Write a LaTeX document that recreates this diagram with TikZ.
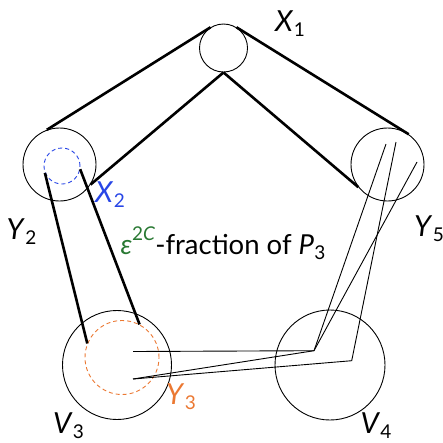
\documentclass[tikz,border=0pt]{standalone}
\usepackage{fontspec}
\setmainfont{Lato}
\definecolor{xblue}{RGB}{40,70,230}
\definecolor{yorange}{RGB}{235,120,50}
\definecolor{egreen}{RGB}{40,120,50}
\newcommand\myvar[2]{\textit{#1}\kern0.3pt\raisebox{-0.35ex}{\fontsize{19}{19}\selectfont #2}}
\tikzset{
  setc/.style={circle,draw,line width=0.9pt,inner sep=0pt,minimum size=#1},
  inner/.style={circle,draw,dashed,line width=0.9pt,inner sep=0pt,minimum size=#1},
  thick line/.style={line width=2.6pt},
  thin line/.style={line width=0.9pt},
  lab/.style={font=\fontsize{29}{32}\selectfont,inner sep=0pt}
}
\begin{document}
\begin{tikzpicture}[x=1pt,y=-1pt]
\useasboundingbox (0,0) rectangle (443,442);
% circles
\node[setc=48pt] (x1) at (223.5,48) {};
\node[setc=73pt] (y2) at (59.5,164.5) {};
\node[setc=73pt] (y5) at (387.5,164.5) {};
\node[setc=109pt] (v3) at (117,365) {};
\node[setc=110pt] (v4) at (330,365) {};
\node[inner=36pt,draw=xblue,dash pattern=on 4pt off 3pt] (x2) at (62,166) {};
\node[inner=74pt,draw=yorange,dash pattern=on 4pt off 3pt] (y3) at (122,357.5) {};
% thick connectors
\draw[thick line] (x1.122) -- (y2.110);
\draw[thick line] (x1.270) -- (y2.327);
\draw[thick line] (x1.58) -- (y5.55);
\draw[thick line] (x1.270) -- (y5.218);
\draw[thick line] (x2.202) -- (y3.158);
\draw[thick line] (x2.350) -- (y3.62);
% thin connectors
\coordinate (a1) at (133,351.5);
\coordinate (a2) at (133,379);
\coordinate (p) at (314,350.7);
\coordinate (q) at (351.7,360.7);
\coordinate (e1) at (386,144);
\coordinate (e2) at (396,142);
\coordinate (e3) at (417,162);
\draw[thin line] (a1) -- (p) -- (e1);
\draw[thin line] (p) -- (e3);
\draw[thin line] (a2) -- (p);
\draw[thin line] (a2) -- (q) -- (e2);
% labels
\node[lab] (lx1) at (290,24) {\myvar{X}{1}};
\node[lab,text=xblue] (lx2) at (110,195) {\myvar{X}{2}};
\node[lab] (ly2) at (21.5,232) {\myvar{Y}{2}};
\node[lab] (ly5) at (429,229) {\myvar{Y}{5}};
\node[lab,text=yorange] (ly3) at (181,397) {\myvar{Y}{3}};
\node[lab] (lv3) at (68.5,426) {\myvar{V}{3}};
\node[lab] (lv4) at (376,426) {\myvar{V}{4}};
\node[lab,font=\fontsize{27.5}{32}\selectfont] (lfr) at (223,243) {\textcolor{egreen}{\textit{ε}\raisebox{1.0ex}{\fontsize{19}{19}\selectfont 2\textit{C}}}-fraction of \myvar{P}{3}};
\end{tikzpicture}
\end{document}
